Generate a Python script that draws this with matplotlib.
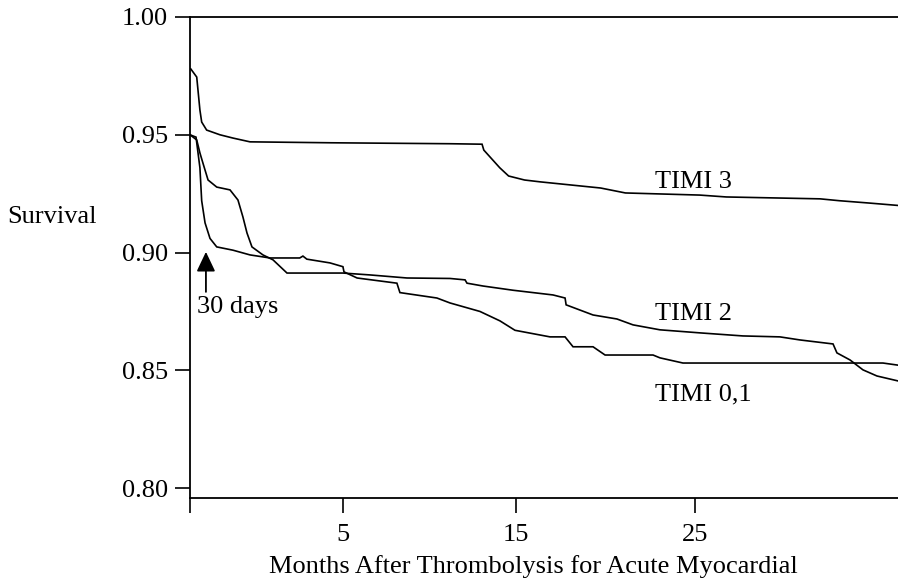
import matplotlib
matplotlib.use("Agg")
import matplotlib.pyplot as plt

plt.rcParams['font.family'] = ['Liberation Serif', 'DejaVu Serif']

# Months after thrombolysis / survival
timi3_x = [0.0, 0.04, 0.38, 0.56, 0.66, 0.94, 1.69, 2.43, 3.39, 8.0, 14.7, 16.5, 16.6,
           17.5, 18.0, 18.9, 19.8, 23.2, 24.6, 28.8, 30.3, 35.6, 36.7, 38.4, 40.0]
timi3_y = [0.978, 0.978, 0.9745, 0.9605, 0.9554, 0.952, 0.950, 0.9486, 0.947, 0.9466, 0.9462, 0.9460, 0.9435,
           0.936, 0.9325, 0.9308, 0.930, 0.9274, 0.9253, 0.9244, 0.9236, 0.9228, 0.922, 0.921, 0.920]

timi2_x = [0.0, 0.38, 0.56, 0.73, 1.02, 1.51, 2.26, 2.71, 2.99, 3.22, 3.50, 4.12, 4.69, 5.48,
           8.64, 10.17, 12.26, 14.69, 15.54, 15.65, 16.55, 18.25, 20.51, 21.19, 21.25, 22.77,
           24.12, 25.03, 26.55, 28.81, 31.24, 33.33, 34.46, 36.33, 36.55, 37.29, 38.02, 38.81, 40.0]
timi2_y = [0.950, 0.9478, 0.9423, 0.938, 0.9308, 0.9278, 0.9266, 0.9223, 0.9151, 0.9083, 0.9024, 0.899, 0.8969, 0.8913,
           0.8913, 0.8905, 0.8892, 0.8890, 0.8884, 0.887, 0.8858, 0.884, 0.882, 0.8807, 0.8778, 0.8735,
           0.8718, 0.8693, 0.8672, 0.8659, 0.8646, 0.8642, 0.8629, 0.8612, 0.8574, 0.8544, 0.8502, 0.8476, 0.8455]

timi01_x = [0.0, 0.34, 0.56, 0.66, 0.85, 1.13, 1.51, 2.43, 3.39, 4.52, 6.2, 6.38, 6.6, 7.91, 8.64, 8.7,
            9.44, 11.69, 11.86, 13.95, 14.69, 16.38, 17.51, 18.36, 20.34, 21.19, 21.64, 22.77,
            23.45, 26.16, 26.55, 27.85, 39.15, 40.0]
timi01_y = [0.950, 0.949, 0.936, 0.922, 0.9126, 0.906, 0.9024, 0.901, 0.899, 0.8977, 0.8977, 0.8985, 0.8972, 0.8956, 0.894, 0.8918,
            0.8892, 0.887, 0.883, 0.8807, 0.8786, 0.875, 0.871, 0.867, 0.8642, 0.8642, 0.860, 0.860,
            0.8565, 0.8565, 0.8553, 0.8531, 0.8531, 0.8522]

xtick_pos = [0.0, 8.64, 18.42, 28.53]
xtick_labels = ["", "5", "15", "25"]
ytick_vals = [0.80, 0.85, 0.90, 0.95, 1.00]
ytick_labels = ["0.80", "0.85", "0.90", "0.95", "1.00"]

fig = plt.figure(figsize=(8.98, 5.80), dpi=100)
ax = fig.add_axes([190/898, (580-498)/580, (898-190)/898, (498-17)/580])

lw = 1.2
for xs, ys in [(timi3_x, timi3_y), (timi2_x, timi2_y), (timi01_x, timi01_y)]:
    ax.plot(xs, ys, color='black', lw=lw, solid_joinstyle='miter')

ax.set_xlim(0, 40)
ax.set_ylim(0.7958, 1.0)
ax.set_xticks(xtick_pos)
ax.set_xticklabels(xtick_labels)
ax.set_yticks(ytick_vals)
ax.set_yticklabels(ytick_labels)
ax.tick_params(axis='both', direction='out', length=11, width=1.2, labelsize=19, colors='black')
ax.tick_params(axis='x', pad=8)
ax.tick_params(axis='y', pad=5)
ax.spines['right'].set_visible(False)
for s in ['left', 'bottom', 'top']:
    ax.spines[s].set_linewidth(1.3)
ax.patch.set_alpha(0)

fs = 19
ax.text(26.27, 0.9274, "TIMI 3", fontsize=fs, ha='left', va='baseline')
ax.text(26.27, 0.8714, "TIMI 2", fontsize=fs, ha='left', va='baseline')
ax.text(26.27, 0.8374, "TIMI 0,1", fontsize=fs, ha='left', va='baseline')
ax.text(0.4, 0.8744, "30 days", fontsize=fs, ha='left', va='baseline')
ax.annotate('', xy=(0.9, 0.9003), xytext=(0.9, 0.8833),
            arrowprops=dict(arrowstyle='-|>,head_length=0.8,head_width=0.38',
                            color='black', lw=1.3, mutation_scale=15, shrinkA=0, shrinkB=0))

fig.text(7/898, (580-223)/580, "Survival", fontsize=fs, ha='left', va='baseline')
fig.text(533/898, (580-573)/580, "Months After Thrombolysis for Acute Myocardial",
         fontsize=fs, ha='center', va='baseline')

fig.savefig("out.png", dpi=100)
